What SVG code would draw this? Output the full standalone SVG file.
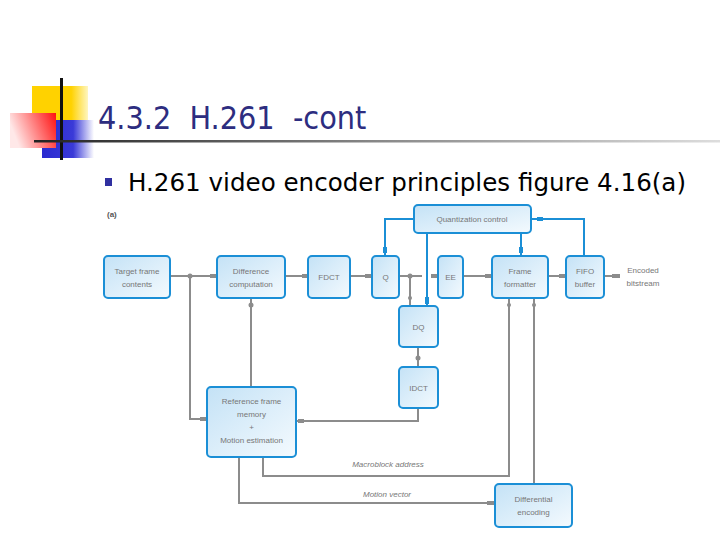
<svg xmlns="http://www.w3.org/2000/svg" width="720" height="540" viewBox="0 0 720 540">
<defs>
<linearGradient id="box" x1="0" y1="0" x2="1" y2="1">
<stop offset="0" stop-color="#c4e2f6"/>
<stop offset="1" stop-color="#f4fafe"/>
</linearGradient>
<linearGradient id="yel" x1="0" y1="0" x2="1" y2="0">
<stop offset="0" stop-color="#ffd200"/>
<stop offset="0.7" stop-color="#ffd200"/>
<stop offset="1" stop-color="#fff6c0"/>
</linearGradient>
<linearGradient id="blu" x1="0" y1="0" x2="1" y2="0">
<stop offset="0" stop-color="#2a2ad0"/>
<stop offset="0.6" stop-color="#3a3ad8"/>
<stop offset="1" stop-color="#ffffff"/>
</linearGradient>
<linearGradient id="red" x1="1" y1="0" x2="0" y2="0.3">
<stop offset="0" stop-color="#ff1010"/>
<stop offset="1" stop-color="#ffe8e8"/>
</linearGradient>
<linearGradient id="hl" x1="0" y1="0" x2="1" y2="0">
<stop offset="0" stop-color="#222222"/>
<stop offset="0.5" stop-color="#888888"/>
<stop offset="1" stop-color="#dddddd"/>
</linearGradient>
</defs>
<style>
.bx{fill:url(#box);stroke:#1b8fd6;stroke-width:2}
.lb{font-family:"Liberation Sans",Arial,sans-serif;font-size:8px;fill:#777;text-anchor:middle}
.it{font-style:italic}
.g{fill:none;stroke:#8c8c8c;stroke-width:2}
.b{fill:none;stroke:#1b8fd6;stroke-width:2}
.gd{fill:#8c8c8c}
.bd{fill:#1b8fd6}
</style>
<g id="decor">
<rect x="32" y="86" width="56" height="46" fill="url(#yel)"/>
<rect x="42" y="120" width="52" height="38" fill="url(#blu)"/>
<rect x="10" y="113" width="46" height="35" fill="url(#red)"/>
<rect x="60" y="78" width="3" height="82" fill="#111"/>
<rect x="34" y="140" width="686" height="2.5" fill="url(#hl)"/>
</g>
<g id="title">
<text x="98" y="129" font-family="'DejaVu Sans Condensed','DejaVu Sans',sans-serif" font-size="32" fill="#2d2d80" xml:space="preserve">4.3.2  H.261  -cont</text>
</g>
<g id="bullet">
<rect x="105" y="178" width="7" height="8" fill="#3030a0"/>
<text x="128" y="191" font-family="'DejaVu Sans',sans-serif" font-size="24" textLength="558" lengthAdjust="spacingAndGlyphs" fill="#000">H.261 video encoder principles figure 4.16(a)</text>
</g>
<text x="107" y="217" font-family="'Liberation Sans',Arial,sans-serif" font-size="8" font-weight="bold" fill="#555">(a)</text>
<g id="connectors">
<path class="g" d="M170 276H217M285 276H308M350 276H372M399 276H422M432 276H438M463 276H492M548 276H566M604 276H620"/>
<path class="g" d="M190 276V419H207"/>
<path class="g" d="M410 276V306"/>
<path class="g" d="M251 387V298"/>
<path class="g" d="M418 347V367"/>
<path class="g" d="M418 408V421H296"/>
<path class="g" d="M263 457V476H509V298"/>
<path class="g" d="M239 457V503H495"/>
<path class="g" d="M534 298V484"/>
<path class="b" d="M414 219H385V256"/>
<path class="b" d="M427 233V306"/>
<path class="b" d="M521 233V256"/>
<path class="b" d="M584 256V219H531"/>
<circle class="gd" cx="190" cy="276" r="2.5"/>
<circle class="gd" cx="410" cy="276" r="2.5"/>
<circle class="gd" cx="410" cy="298" r="2"/>
<circle class="gd" cx="251" cy="305" r="2.5"/>
<circle class="gd" cx="418" cy="358" r="2.5"/>
<circle class="gd" cx="509" cy="305" r="2"/>
<circle class="gd" cx="534" cy="305" r="2"/>
<rect class="gd" x="200" y="417" width="6" height="4"/>
<rect class="gd" x="298" y="419" width="6" height="4"/>
<rect class="gd" x="487" y="501" width="7" height="4"/>
<rect class="gd" x="210" y="274" width="6" height="4"/>
<rect class="gd" x="302" y="274" width="6" height="4"/>
<rect class="gd" x="365" y="274" width="6" height="4"/>
<rect class="gd" x="431" y="274" width="6" height="4"/>
<rect class="gd" x="485" y="274" width="6" height="4"/>
<rect class="gd" x="559" y="274" width="6" height="4"/>
<rect class="gd" x="612" y="274" width="8" height="4"/>
<rect class="bd" x="383" y="247" width="4" height="6"/>
<rect class="bd" x="519" y="247" width="4" height="6"/>
<rect class="bd" x="537" y="217" width="6" height="4"/>
<rect class="bd" x="425" y="297" width="4" height="7"/>
</g>
<g id="target"><rect class="bx" x="104" y="256" width="66" height="42" rx="4"/><text class="lb" x="137" y="274">Target frame</text><text class="lb" x="137" y="287">contents</text></g>
<g id="diff"><rect class="bx" x="217" y="256" width="68" height="42" rx="4"/><text class="lb" x="251" y="274">Difference</text><text class="lb" x="251" y="287">computation</text></g>
<g id="fdct"><rect class="bx" x="308" y="256" width="42" height="42" rx="4"/><text class="lb" x="329" y="280">FDCT</text></g>
<g id="q"><rect class="bx" x="372" y="256" width="27" height="42" rx="4"/><text class="lb" x="385.5" y="280">Q</text></g>
<g id="ee"><rect class="bx" x="438" y="256" width="25" height="42" rx="4"/><text class="lb" x="450.5" y="280">EE</text></g>
<g id="ff"><rect class="bx" x="492" y="256" width="56" height="42" rx="4"/><text class="lb" x="520" y="274">Frame</text><text class="lb" x="520" y="287">formatter</text></g>
<g id="fifo"><rect class="bx" x="566" y="256" width="38" height="42" rx="4"/><text class="lb" x="585" y="274">FIFO</text><text class="lb" x="585" y="287">buffer</text></g>
<g id="qc"><rect class="bx" x="414" y="205" width="117" height="28" rx="4"/><text class="lb" x="472" y="222">Quantization control</text></g>
<g id="dq"><rect class="bx" x="399" y="306" width="39" height="41" rx="4"/><text class="lb" x="418.5" y="330">DQ</text></g>
<g id="idct"><rect class="bx" x="399" y="367" width="39" height="41" rx="4"/><text class="lb" x="418.5" y="391">IDCT</text></g>
<g id="ref"><rect class="bx" x="207" y="387" width="89" height="70" rx="4"/><text class="lb" x="251.5" y="404">Reference frame</text><text class="lb" x="251.5" y="417">memory</text><text class="lb" x="251.5" y="430">+</text><text class="lb" x="251.5" y="443">Motion estimation</text></g>
<g id="de"><rect class="bx" x="495" y="484" width="77" height="43" rx="4"/><text class="lb" x="533.5" y="502">Differential</text><text class="lb" x="533.5" y="515">encoding</text></g>
<g id="out"><text class="lb" x="643" y="273">Encoded</text><text class="lb" x="643" y="286">bitstream</text></g>
<text class="lb it" x="388" y="467">Macroblock address</text>
<text class="lb it" x="387" y="497">Motion vector</text>
</svg>
